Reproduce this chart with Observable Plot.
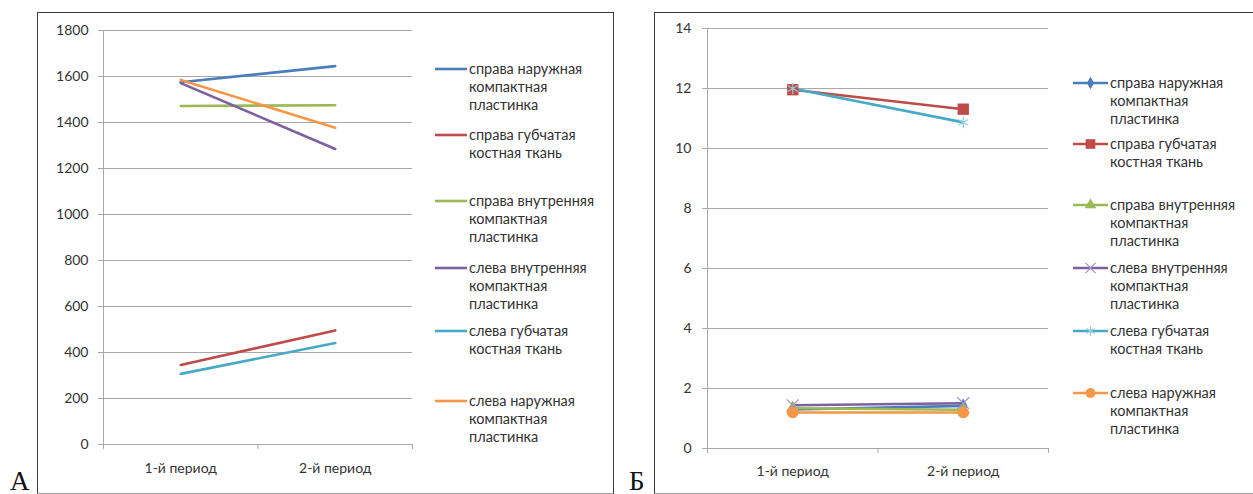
<!DOCTYPE html>
<html><head><meta charset="utf-8">
<script src="https://cdn.jsdelivr.net/npm/d3@7"></script>
<script src="https://cdn.jsdelivr.net/npm/@observablehq/plot@0.6"></script>
<style>
body{margin:0;background:#fff;width:1253px;height:494px;overflow:hidden;position:relative;font-family:Lato,"Open Sans",sans-serif;color:#333;}
.frame{position:absolute;box-sizing:border-box;border:1.5px solid #3a3a3a;border-bottom-color:#a0a0a0;}
.abs{position:absolute;}
.leg{position:absolute;display:flex;align-items:flex-start;font-size:14.5px;line-height:18px;color:#333;}
.leg .t{white-space:pre-line;}
.letter{position:absolute;font-family:"Liberation Serif","DejaVu Serif",serif;font-size:27px;line-height:1;color:#111;}
</style></head><body>
<div class="frame" style="left:37px;top:12px;width:577px;height:482px;"></div>
<div class="frame" style="left:654px;top:12px;width:640px;height:482px;"></div>
<div class="letter" style="left:10px;top:468px;">А</div>
<div class="letter" style="left:629px;top:468px;">Б</div>
<div id="plotA" class="abs" style="left:37px;top:12px;"></div>
<div id="plotB" class="abs" style="left:654px;top:12px;"></div>
<div id="legA"></div>
<div id="legB"></div>
<script>
// ---- data ----
const periods = ["1-й период", "2-й период"];
const seriesNames = [
  "справа наружная\nкомпактная\nпластинка",
  "справа губчатая\nкостная ткань",
  "справа внутренняя\nкомпактная\nпластинка",
  "слева внутренняя\nкомпактная\nпластинка",
  "слева губчатая\nкостная ткань",
  "слева наружная\nкомпактная\nпластинка"
];
const seriesColors = ["#4a7ebb", "#be4b48", "#98b954", "#7d60a0", "#46aac5", "#f79646"];
const markerSymbols = ["diamond", "square", "triangle", "times", "asterisk", "circle"];
// panel А values: [1-й период, 2-й период] per series
const valuesA = [
  [1575, 1645],
  [346, 496],
  [1472, 1475],
  [1571, 1285],
  [307, 441],
  [1585, 1377]
];
// panel Б values
const valuesB = [
  [1.30, 1.42],
  [11.96, 11.31],
  [1.34, 1.29],
  [1.44, 1.51],
  [12.0, 10.87],
  [1.20, 1.20]
];
const ticksA = d3.range(0, 1801, 200);
const ticksB = d3.range(0, 15, 2);

// ---- helpers ----
const rowsOf = vals => vals.flatMap((v, s) => v.map((y, i) => ({s, name: seriesNames[s], x: i + 0.5, y})));
const grid = "#a8a8a8";
const markerFill = ["#4a7ebb", "#be4b48", "#98b954", "none", "none", "#f79646"];
const markerStroke = ["none", "none", "none", "#a592c6", "#93cddd", "none"];
const markerR = [4.5, 6.4, 5, 5.5, 5.5, 5.8];

function base(ticks, ymax, opts, extraMarks) {
  const {tp, xp, ...rest} = opts;
  return Plot.plot({
    ...rest,
    style: {fontFamily: "Lato, sans-serif", fontSize: "14px", color: "#333", background: "transparent", overflow: "visible"},
    x: {domain: [0, 2], axis: null},
    y: {domain: [0, ymax], axis: null},
    color: {domain: seriesNames, range: seriesColors},
    marks: [
      Plot.gridY(ticks, {stroke: grid, strokeOpacity: 1}),
      Plot.ruleX([0], {stroke: grid}),
      Plot.axisY(ticks, {tickSize: 5, tickPadding: tp, stroke: grid, fill: "#333", label: null, tickFormat: d => String(d)}),
      Plot.axisX([0, 1, 2], {tickSize: 5, tickFormat: () => "", stroke: grid, label: null}),
      Plot.axisX([0.5, 1.5], {tickSize: 0, tickPadding: xp, tickFormat: d => periods[Math.floor(d)], fill: "#333", label: null}),
      ...extraMarks
    ]
  });
}

const rowsA = rowsOf(valuesA);
const plotA = base(ticksA, 1800, {width: 375, height: 482, marginLeft: 66, marginTop: 18, marginBottom: 50, marginRight: 0, tp: 10, xp: 19}, [
  Plot.line(rowsA, {x: "x", y: "y", z: "s", stroke: "name", strokeWidth: 2.6})
]);
document.getElementById("plotA").append(plotA);

const rowsB = rowsOf(valuesB);
const marksB = [];
seriesNames.forEach((n, s) => {
  const r = rowsB.filter(d => d.s === s);
  marksB.push(Plot.line(r, {x: "x", y: "y", stroke: "name", strokeWidth: 2.6}));
});
seriesNames.forEach((n, s) => {
  const r = rowsB.filter(d => d.s === s);
  marksB.push(Plot.dot(r, {x: "x", y: "y", symbol: () => markerSymbols[s], r: markerR[s],
    fill: markerFill[s], stroke: markerStroke[s], strokeWidth: 1.2}));
});
const plotB = base(ticksB, 14, {width: 394, height: 482, marginLeft: 53, marginTop: 16, marginBottom: 46, marginRight: 0, tp: 11, xp: 18}, marksB);
document.getElementById("plotB").append(plotB);

// ---- legends ----
const symMap = {diamond: d3.symbolDiamond, square: d3.symbolSquare, triangle: d3.symbolTriangle,
  times: d3.symbolTimes, asterisk: d3.symbolAsterisk, circle: d3.symbolCircle};
function legend(container, left, lineW, tops, withMarkers) {
  const el = document.getElementById(container);
  seriesNames.forEach((n, s) => {
    const div = document.createElement("div");
    div.className = "leg";
    div.style.left = left + "px";
    div.style.top = (tops[s] - 9) + "px";
    const svg = d3.create("svg").attr("width", lineW + 2).attr("height", 18).style("flex", "none");
    svg.append("line").attr("x1", 0).attr("x2", lineW).attr("y1", 9).attr("y2", 9)
      .attr("stroke", seriesColors[s]).attr("stroke-width", 2.6);
    if (withMarkers) {
      const r = markerR[s] * 0.85;
      svg.append("path").attr("transform", `translate(${lineW / 2},9)`)
        .attr("d", d3.symbol(symMap[markerSymbols[s]], Math.PI * r * r)())
        .attr("fill", markerFill[s]).attr("stroke", markerStroke[s] === "none" ? null : markerStroke[s])
        .attr("stroke-width", 1.2);
    }
    div.append(svg.node());
    const t = document.createElement("div");
    t.className = "t";
    t.textContent = n;
    div.append(t);
    el.append(div);
  });
}
legend("legA", 435, 32, [69, 135, 201, 268, 331, 401], false);
legend("legB", 1073, 35, [83, 144, 205, 268, 331, 393], true);
</script>
</body></html>
